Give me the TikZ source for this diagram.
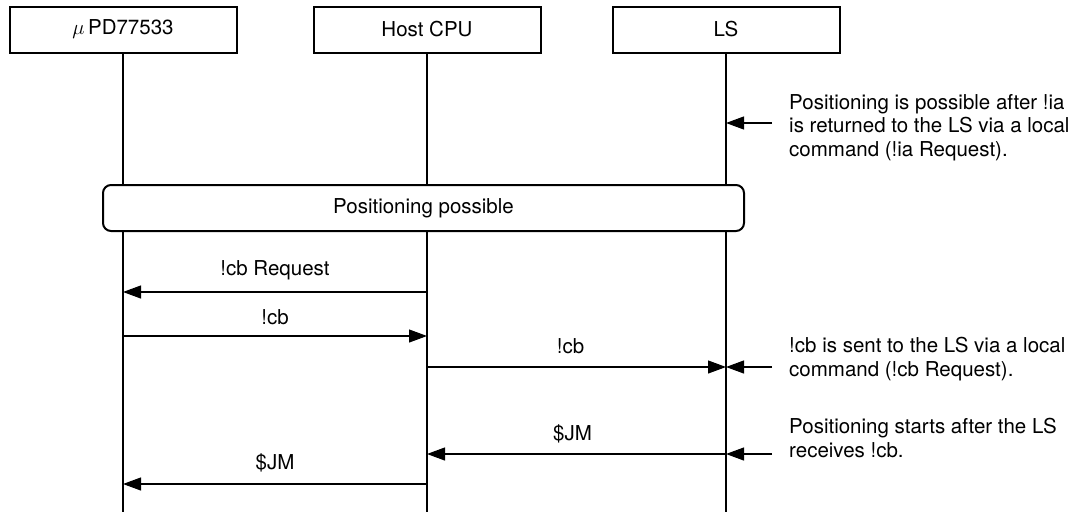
\documentclass[tikz,border=0pt]{standalone}
\usepackage{fontspec}
\setmainfont{TeX Gyre Heros}
\usetikzlibrary{arrows.meta}
\begin{document}
\begin{tikzpicture}[x=1pt,y=-1pt,
  every node/.style={font=\fontsize{20.5}{23.5}\selectfont},
  head/.style={draw,line width=2pt,minimum width=227pt,minimum height=46pt,inner sep=0pt},
  life/.style={line width=1.1pt},
  msg/.style={line width=1.1pt,-{Triangle[length=18pt,width=13pt]}},
  lbl/.style={anchor=base,inner sep=0pt},
  note/.style={align=left,anchor=base west,inner sep=0pt},
  phase/.style={draw,fill=white,line width=2pt,rounded corners=8pt,minimum width=641pt,minimum height=46pt,inner sep=0pt}
]
\useasboundingbox (0,0) rectangle (1078,514);
% header boxes
\node[head] (A) at (123,29.5) {$\mu$\,PD77533};
\node[head] (B) at (427,29.5) {Host CPU};
\node[head] (C) at (726,29.5) {LS};
% lifeline ends
\coordinate (Ae) at (123,512);
\coordinate (Be) at (427,512);
\coordinate (Ce) at (726,512);
\draw[life] (A.south) -- (Ae);
\draw[life] (B.south) -- (Be);
\draw[life] (C.south) -- (Ce);
% phase box
\node[phase] (P) at (423.5,208) {Positioning possible};
% annotation 1 (base = last line)
\coordinate (n1) at (772,123);
\draw[msg] (n1) -- (C |- n1);
\node[note] (t1) at (789,156) {Positioning is possible after !ia\\is returned to the LS via a local\\command (!ia Request).};
% messages
\coordinate (y1) at (0,292);
\draw[msg] (B |- y1) -- node[lbl,above=11pt] (m1) {!cb Request} (A |- y1);
\coordinate (y2) at (0,336);
\draw[msg] (A |- y2) -- node[lbl,above=11pt] (m2) {!cb} (B |- y2);
\coordinate (y3) at (0,367);
\draw[msg] (B |- y3) -- node[lbl,above=13pt,xshift=-6pt] (m3) {!cb} (C |- y3);
\coordinate (n2) at (772,367);
\draw[msg] (n2) -- (C |- n2);
\node[note] (t2) at (789,376) {!cb is sent to the LS via a local\\command (!cb Request).};
\coordinate (y4) at (0,454);
\draw[msg] (C |- y4) -- node[lbl,above=10pt,xshift=-4pt] (m4) {\$JM} (B |- y4);
\coordinate (n3) at (772,454);
\draw[msg] (n3) -- (C |- n3);
\node[note] (t3) at (789,457) {Positioning starts after the LS\\receives !cb.};
\coordinate (y5) at (0,484);
\draw[msg] (B |- y5) -- node[lbl,above=11pt] (m5) {\$JM} (A |- y5);
\end{tikzpicture}
\end{document}
